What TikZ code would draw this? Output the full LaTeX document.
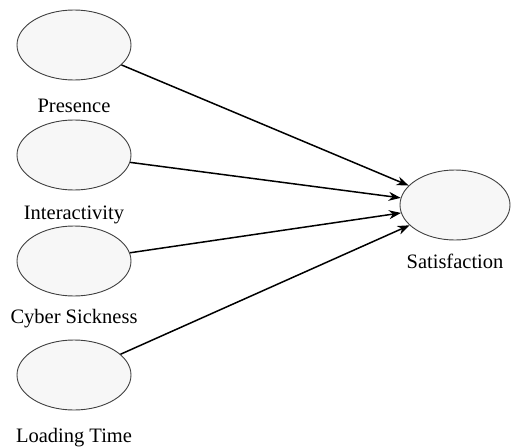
\documentclass[tikz,border=0pt]{standalone}
\usepackage{fontspec}
\setmainfont{Liberation Serif}
\usepackage{tikz}
\usetikzlibrary{shapes.geometric,arrows.meta}

\begin{document}
\begin{tikzpicture}[x=1pt,y=-1pt,
  construct/.style={ellipse,draw=black!75,line width=0.9pt,fill=black!3,
    minimum width=114pt,minimum height=70pt,inner sep=0pt},
  caption/.style={font=\fontsize{20.5}{23}\selectfont,text=black},
  path/.style={line width=1.5pt,-{Stealth[length=12pt,width=9pt]}}]
\useasboundingbox (0,0) rectangle (511,447);
\node [construct] (pres) at (74,45) {};
\node [construct] (inter) at (74,155) {};
\node [construct] (cyber) at (74,261) {};
\node [construct] (load) at (74,375) {};
\node [construct, minimum width=110pt] (sat) at (455,205) {};

\node [caption] (presl) at (74,106) {Presence};
\node [caption] (interl) at (74,215) {Interactivity};
\node [caption] (cyberl) at (74,319) {Cyber Sickness};
\node [caption] (loadl) at (74,438) {Loading Time};
\node [caption] (satl) at (455,261) {Satisfaction};

\draw [path] (pres) -- (sat);
\draw [path] (inter) -- (sat);
\draw [path] (cyber) -- (sat);
\draw [path] (load) -- (sat);
\end{tikzpicture}
\end{document}
